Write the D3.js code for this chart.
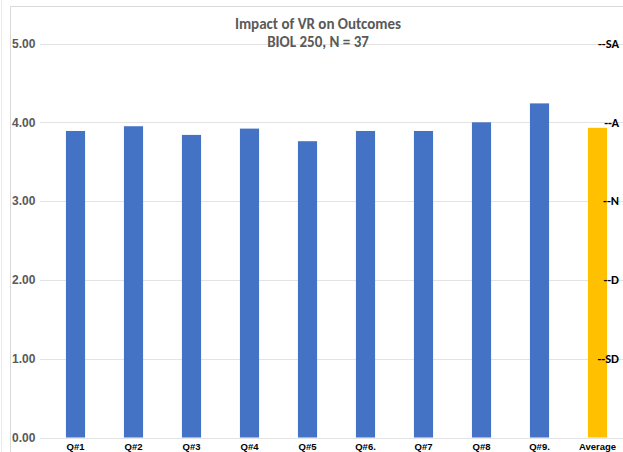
<!DOCTYPE html>
<html>
<head>
<meta charset="utf-8">
<script src="https://cdn.jsdelivr.net/npm/d3@7"></script>
<style>
  html, body { margin: 0; padding: 0; background: #fff; }
  svg { display: block; font-family: Carlito, Calibri, Lato, "Open Sans", sans-serif; }
</style>
</head>
<body>
<svg id="chart" width="623" height="452"></svg>
<script>
// Mean Likert score per survey question, plus the overall average
const questions = ["Q#1", "Q#2", "Q#3", "Q#4", "Q#5", "Q#6.", "Q#7", "Q#8", "Q#9.", "Average"];
const scores = [3.89, 3.95, 3.84, 3.92, 3.76, 3.89, 3.89, 4.00, 4.24, 3.93];
const yTicks = [0, 1, 2, 3, 4, 5];
// Likert anchors shown at the right edge
const anchorLevels = [5, 4, 3, 2, 1];
const anchorLabels = ["--SA", "--A", "--N", "--D", "--SD"];

const title = "Impact of VR on Outcomes";
const subtitle = "BIOL 250, N = 37";

const svg = d3.select("#chart");

// chart frame
svg.append("line").attr("x1", 1.5).attr("x2", 1.5).attr("y1", 0).attr("y2", 452)
  .attr("stroke", "#ececec").attr("stroke-width", 1);
svg.append("path").attr("d", "M10.5,452 V6.5 H623")
  .attr("fill", "none").attr("stroke", "#d9d9d9").attr("stroke-width", 1);

const x = d3.scaleBand()
  .domain(questions)
  .range([46.5, 626.5])
  .paddingInner(0.67)
  .paddingOuter(0.335);

const y = d3.scaleLinear().domain([0, 5]).range([437.5, 43.5]);

// horizontal gridlines
svg.append("g")
  .selectAll("line")
  .data(yTicks)
  .join("line")
  .attr("x1", 40).attr("x2", 623)
  .attr("y1", d => Math.round(y(d)) + 0.5)
  .attr("y2", d => Math.round(y(d)) + 0.5)
  .attr("stroke", "#e3e3e3").attr("stroke-width", 1);

// y axis labels
const yAxis = d3.axisLeft(y).tickValues(yTicks).tickFormat(d3.format(".2f")).tickSize(0).tickPadding(0);
const gy = svg.append("g").attr("transform", "translate(12,0)").call(yAxis);
gy.select(".domain").remove();
gy.selectAll("text")
  .attr("text-anchor", "start")
  .attr("fill", "#595959")
  .attr("font-size", 12)
  .attr("font-weight", "bold")
  .attr("font-family", null);

// bars
svg.append("g")
  .selectAll("rect")
  .data(questions)
  .join("rect")
  .attr("x", d => x(d))
  .attr("width", x.bandwidth())
  .attr("y", (d, i) => y(scores[i]))
  .attr("height", (d, i) => y(0) - y(scores[i]))
  .attr("fill", d => d === "Average" ? "#FFC000" : "#4472C4");

// x axis labels
const xAxis = d3.axisBottom(x).tickSize(0).tickPadding(0);
const gx = svg.append("g").attr("transform", "translate(0,443)").call(xAxis);
gx.select(".domain").remove();
gx.selectAll("text")
  .attr("fill", "#000")
  .attr("font-size", 9.5)
  .attr("font-weight", "bold")
  .attr("font-family", null);

// Likert anchor labels
svg.append("g")
  .selectAll("text")
  .data(anchorLevels)
  .join("text")
  .attr("x", 619)
  .attr("y", d => y(d))
  .attr("dy", "0.35em")
  .attr("text-anchor", "end")
  .attr("font-size", 12.5)
  .attr("font-weight", "bold")
  .attr("fill", "#000")
  .text((d, i) => anchorLabels[i]);

// titles
svg.append("text")
  .attr("x", 318).attr("y", 29)
  .attr("text-anchor", "middle")
  .attr("font-size", 15)
  .attr("font-weight", "bold")
  .attr("fill", "#595959")
  .text(title);
svg.append("text")
  .attr("x", 318).attr("y", 47)
  .attr("text-anchor", "middle")
  .attr("font-size", 15)
  .attr("font-weight", "bold")
  .attr("fill", "#595959")
  .text(subtitle);
</script>
</body>
</html>
